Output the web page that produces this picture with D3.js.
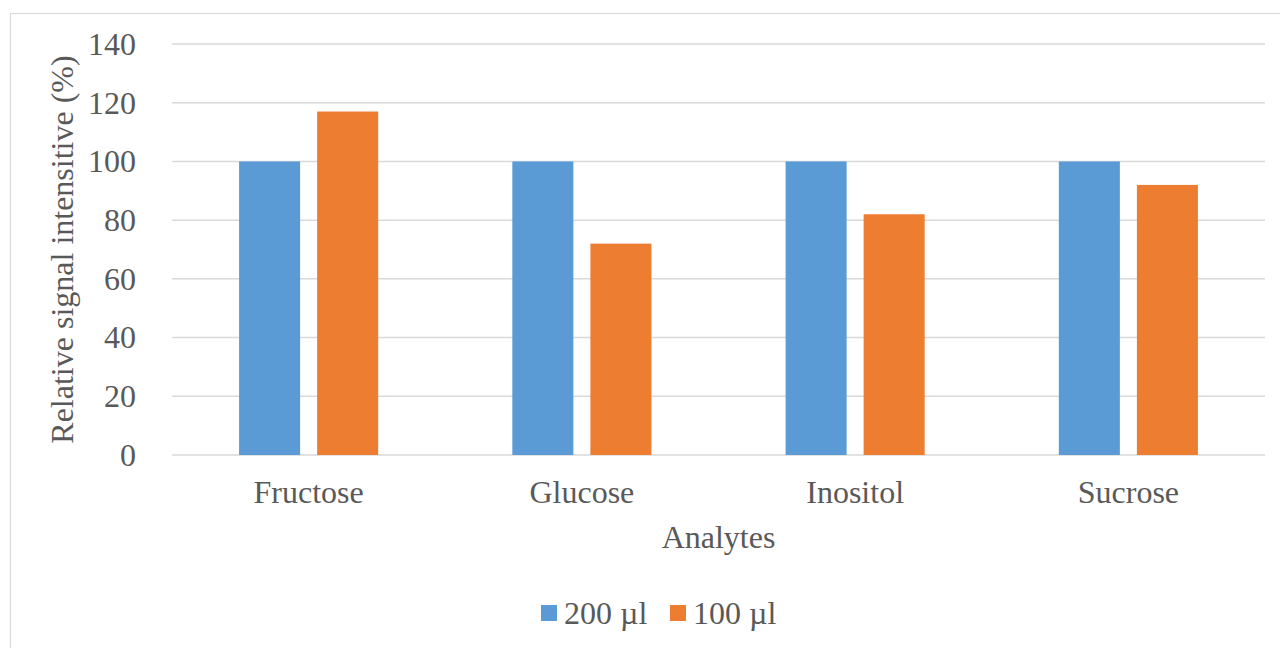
<!DOCTYPE html>
<html><head><meta charset="utf-8">
<script src="https://cdn.jsdelivr.net/npm/d3@7"></script>
<style>
html,body{margin:0;padding:0;background:#fff;}
svg text{font-family:"Liberation Serif","Times New Roman",serif;fill:#595959;}
</style></head>
<body>
<svg id="chart" width="1280" height="648"></svg>
<script>
const categories = ["Fructose","Glucose","Inositol","Sucrose"];
const seriesNames = ["200 µl","100 µl"];
const series200 = [100,100,100,100];
const series100 = [117,72,82,92];
const yTicks = [0,20,40,60,80,100,120,140];
const colors = ["#5b9bd5","#ed7d31"];

const svg = d3.select("#chart");
const mLeft = 172, mRight = 1265, mTop = 44, mBottom = 455;
const fs = "32px";

svg.append("rect").attr("x",10.5).attr("y",13.5).attr("width",1300).attr("height",700)
  .attr("fill","#fff").attr("stroke","#d9d9d9").attr("stroke-width",1.2);

const y = d3.scaleLinear().domain([0,140]).range([mBottom, mTop]);
const x0 = d3.scaleBand().domain(categories).range([mLeft,mRight]).paddingInner(0.491).paddingOuter(0.2455);
const x1 = d3.scaleBand().domain(seriesNames).range([0,x0.bandwidth()]).paddingInner(0.218);

// gridlines
svg.append("g").selectAll("line").data(yTicks).join("line")
  .attr("x1",mLeft).attr("x2",mRight)
  .attr("y1",d=>y(d)).attr("y2",d=>y(d))
  .attr("stroke","#d9d9d9").attr("stroke-width",1.5);

// y tick labels
svg.append("g").selectAll("text").data(yTicks).join("text")
  .attr("x",136).attr("y",d=>y(d)).attr("dy","0.34em")
  .attr("text-anchor","end").attr("font-size",fs).text(d=>d);

const data = categories.map((c,i)=>({cat:c, vals:[series200[i],series100[i]]}));
const groups = svg.append("g").selectAll("g").data(data).join("g")
  .attr("transform",d=>`translate(${x0(d.cat)},0)`);
groups.selectAll("rect").data(d=>d.vals.map((v,j)=>({name:seriesNames[j],v,j}))).join("rect")
  .attr("x",d=>x1(d.name)).attr("width",x1.bandwidth())
  .attr("y",d=>y(d.v)).attr("height",d=>y(0)-y(d.v))
  .attr("fill",d=>colors[d.j]);

// category labels
svg.append("g").selectAll("text").data(categories).join("text")
  .attr("x",d=>x0(d)+x0.bandwidth()/2).attr("y",503)
  .attr("text-anchor","middle").attr("font-size",fs).text(d=>d);

// axis titles
svg.append("text").attr("x",(mLeft+mRight)/2).attr("y",548).attr("text-anchor","middle")
  .attr("font-size",fs).text("Analytes");
svg.append("text").attr("transform",`translate(73,${(mTop+mBottom)/2}) rotate(-90)`)
  .attr("text-anchor","middle").attr("font-size",fs).text("Relative signal intensitive (%)");

// legend
const legendX = [541, 670];
const lg = svg.append("g").selectAll("g").data(seriesNames).join("g")
  .attr("transform",(d,i)=>`translate(${legendX[i]},605)`);
lg.append("rect").attr("width",16).attr("height",16).attr("fill",(d,i)=>colors[i]);
lg.append("text").attr("x",23).attr("y",8).attr("dy","0.34em").attr("font-size",fs).text(d=>d);
</script>
</body></html>
